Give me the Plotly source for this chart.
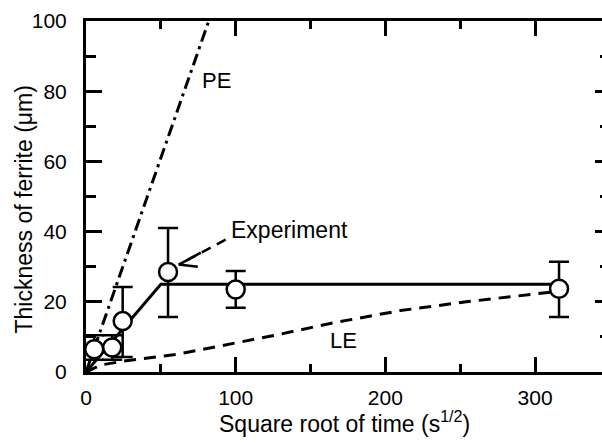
import plotly.graph_objects as go

# Experimental data (sqrt time, thickness, error bars)
exp_x = [5.5, 17.5, 24.5, 54.8, 100, 316]
exp_y = [6.5, 7.0, 14.5, 28.5, 23.5, 23.7]
err_plus = [4.0, 3.5, 9.7, 12.5, 5.3, 7.7]
err_minus = [3.0, 3.5, 10.2, 12.8, 5.2, 8.0]

# Solid fit line through experiment
fit_x = [0, 50, 316]
fit_y = [0, 25, 25]

# PE (dash-dot) prediction
pe_x = [0, 82]
pe_y = [0, 100]

# LE (dashed) prediction
le_x = [0, 10, 25, 40, 60, 80, 100, 130, 165, 210, 254, 290, 316]
le_y = [0, 2.0, 3.1, 3.9, 5.0, 6.6, 8.2, 10.8, 14.0, 17.5, 20.0, 21.8, 23.0]

# Arrow pointing to an experiment point
arrow_shaft_x = [93.3, 62]
arrow_shaft_y = [37.7, 30.6]
arrow_head_x = [76.7, 62, 74.7]
arrow_head_y = [34.0, 30.6, 30.0]

x_ticks = [0, 100, 200, 300]
y_ticks = [0, 20, 40, 60, 80, 100]

FONT = "Liberation Sans, Arial, sans-serif"

fig = go.Figure()
fig.add_trace(go.Scatter(x=le_x, y=le_y, mode="lines",
                         line=dict(color="black", width=3, dash="12px,8px"),
                         hoverinfo="skip", showlegend=False))
fig.add_trace(go.Scatter(x=pe_x, y=pe_y, mode="lines",
                         line=dict(color="black", width=3, dash="12px,5px,3px,5px"),
                         hoverinfo="skip", showlegend=False))
fig.add_trace(go.Scatter(x=fit_x, y=fit_y, mode="lines",
                         line=dict(color="black", width=3),
                         hoverinfo="skip", showlegend=False))
fig.add_trace(go.Scatter(x=arrow_shaft_x, y=arrow_shaft_y, mode="lines",
                         line=dict(color="black", width=2.5, dash="10px,7px"),
                         hoverinfo="skip", showlegend=False))
fig.add_trace(go.Scatter(x=arrow_head_x, y=arrow_head_y, mode="lines",
                         line=dict(color="black", width=2.5),
                         hoverinfo="skip", showlegend=False))
fig.add_trace(go.Scatter(x=exp_x, y=exp_y, mode="markers",
                         marker=dict(symbol="circle", size=18, color="white",
                                     line=dict(color="black", width=2.5)),
                         error_y=dict(type="data", symmetric=False,
                                      array=err_plus, arrayminus=err_minus,
                                      color="black", thickness=2.5, width=10),
                         cliponaxis=False, showlegend=False))
# right-side tick axis helper
fig.add_trace(go.Scatter(x=[0], y=[0], yaxis="y2", mode="markers",
                         marker=dict(opacity=0), showlegend=False,
                         hoverinfo="skip"))

axis_common = dict(showgrid=False, zeroline=False, color="black", automargin=False,
                   tickfont=dict(family=FONT, size=21, color="black"))

fig.update_layout(
    width=602, height=443,
    margin=dict(l=86, r=0, t=21, b=71),
    paper_bgcolor="white", plot_bgcolor="white",
    font=dict(family=FONT, size=21, color="black"),
    xaxis=dict(range=[0, 344.7], tickvals=x_ticks, ticks="inside", ticklen=15,
               tickwidth=3, tickcolor="black", showline=True, linewidth=3,
               linecolor="black", mirror="ticks", ticklabelstandoff=5,
               minor=dict(dtick=50, tick0=0, ticks="inside", ticklen=8,
                          tickwidth=3, tickcolor="black"),
               **axis_common),
    yaxis=dict(range=[0, 100], tickvals=y_ticks, ticks="inside", ticklen=16,
               tickwidth=3, tickcolor="black", showline=True, linewidth=3,
               linecolor="black", mirror=False, ticklabelstandoff=12,
               minor=dict(dtick=10, tick0=0, ticks="inside", ticklen=10,
                          tickwidth=3, tickcolor="black"),
               **axis_common),
    yaxis2=dict(range=[0, 100], overlaying="y", side="right", tickvals=y_ticks,
                ticks="inside", ticklen=7, tickwidth=3, tickcolor="black",
                showline=False, showticklabels=False, showgrid=False,
                zeroline=False, automargin=False,
                minor=dict(dtick=10, tick0=0, ticks="inside", ticklen=2,
                           tickwidth=3, tickcolor="black")),
    annotations=[
        dict(text="Square root of time (s<sup>1/2</sup>)", xref="paper", yref="paper",
             x=0.5, y=0, yshift=-50, xanchor="center", yanchor="middle",
             showarrow=False, font=dict(family=FONT, size=23)),
        dict(text="Thickness of ferrite (\u03bcm)", xref="paper", yref="paper",
             x=0, y=0.5, xshift=-63, yshift=-13, textangle=-90,
             xanchor="center", yanchor="middle",
             showarrow=False, font=dict(family=FONT, size=23)),
        dict(text="PE", x=87, y=83, showarrow=False,
             font=dict(family=FONT, size=22)),
        dict(text="Experiment", x=136, y=40.5, showarrow=False,
             font=dict(family=FONT, size=23)),
        dict(text="LE", x=172.3, y=9.1, showarrow=False,
             font=dict(family=FONT, size=22)),
    ],
)

fig.write_html("out.html", config={"displayModeBar": False},
               post_script="document.body.style.margin='0';"
                           "document.body.style.overflow='hidden';")
